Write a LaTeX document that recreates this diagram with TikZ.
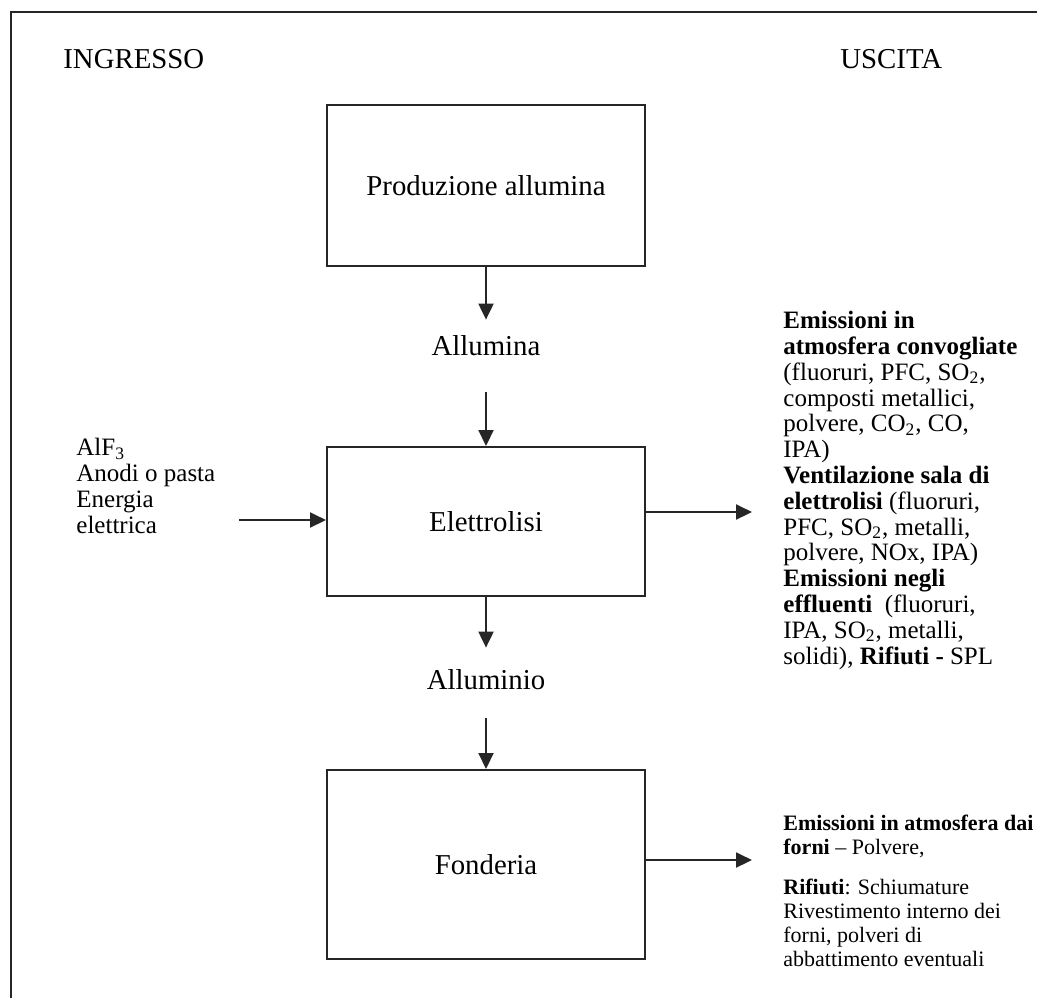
\documentclass[tikz,border=0pt]{standalone}
\usepackage{fontspec}
\setmainfont{Liberation Serif}
\usetikzlibrary{arrows.meta,calc}
\tikzset{
  frameline/.style={line width=1pt,draw=black!85},
  procbox/.style={draw=black!85,line width=1pt,rectangle,inner sep=0pt,
    minimum width=159pt,font=\fontsize{14.4}{16}\selectfont},
  arr/.style={line width=1pt,draw=black!85,
    -{Triangle[length=8pt,width=7.5pt]}},
  lbl/.style={inner sep=0pt,font=\fontsize{14.4}{16}\selectfont},
  txt/.style={inner sep=0pt,align=left,anchor=north west,
    font=\fontsize{12.5}{12.9}\selectfont},
  txtsmall/.style={inner sep=0pt,align=left,anchor=north west,
    font=\fontsize{11}{12}\selectfont},
}
\newcommand{\sub}[1]{\textsubscript{#1}}
\begin{document}
\begin{tikzpicture}[x=0.5pt,y=-0.5pt]
\useasboundingbox (0,0) rectangle (1037,998);
% outer frame (only top and left sides visible)
\draw[frameline] (11,998) -- (11,12) -- (1037,12);
% headers
\node[lbl,anchor=base west] (ing) at (63,68) {INGRESSO};
\node[lbl,anchor=base west] (usc) at (840,68) {USCITA};
% process boxes
\node[procbox,minimum height=80.5pt] (b1) at (486,185.5) {Produzione allumina};
\node[procbox,minimum height=74.5pt] (b2) at (486,521.5) {Elettrolisi};
\node[procbox,minimum height=94.5pt] (b3) at (486,864.5) {Fonderia};
% intermediate labels
\node[lbl,minimum height=26pt] (al) at (486,346) {Allumina};
\node[lbl,minimum height=32pt] (alu) at (486,680) {Alluminio};
% vertical arrows
\draw[arr] (b1.south) -- (al.north);
\draw[arr] ([yshift=-10pt]al.south) -- (b2.north);
\draw[arr] (b2.south) -- (alu.north);
\draw[arr] ([yshift=-3pt]alu.south) -- (b3.north);
% input
\node[txt] (inp) at (76,438) {AlF\sub{3}\\Anodi o pasta\\Energia\\elettrica};
\coordinate (inL) at (239,520);
\draw[arr] (inL) -- (inL -| b2.west);
% outputs
\coordinate (outE) at (752,512);
\draw[arr] (outE -| b2.east) -- (outE);
\coordinate (outF) at (752,860);
\draw[arr] (outF -| b3.east) -- (outF);
\node[txt] (outtxt) at (783,311) {\textbf{Emissioni in}\\
\textbf{atmosfera convogliate}\\
(fluoruri, PFC, SO\sub{2},\\
composti metallici,\\
polvere, CO\sub{2}, CO,\\
IPA)\\
\textbf{Ventilazione sala di}\\
\textbf{elettrolisi} (fluoruri,\\
PFC, SO\sub{2}, metalli,\\
polvere, NOx, IPA)\\
\textbf{Emissioni negli}\\
\textbf{effluenti}\ \ (fluoruri,\\
IPA, SO\sub{2}, metalli,\\
solidi), \textbf{Rifiuti -} SPL};
\node[txtsmall] (fontxt) at (783,815) {\textbf{Emissioni in atmosfera dai}\\
\textbf{forni} -- Polvere,\\[8pt]
\textbf{Rifiuti}: Schiumature\\
Rivestimento interno dei\\
forni, polveri di\\
abbattimento eventuali};
\end{tikzpicture}
\end{document}
